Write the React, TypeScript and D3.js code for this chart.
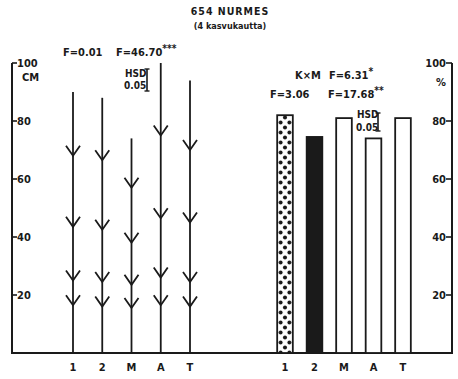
import React from "react";
import { scaleLinear, scalePoint } from "d3";

// categories (same on both panels)
const categories = ["1", "2", "M", "A", "T"];

// left panel: height of the vertical line (cm) and the four arrow marks
const lineTop = [90, 88, 74, 100, 94];
const arrow1 = [68, 66.5, 57, 75, 70];
const arrow2 = [43.5, 42.5, 38, 46.5, 45];
const arrow3 = [25, 24.5, 23.5, 26, 24.5];
const arrow4 = [16.5, 16, 15.5, 16.5, 16];

// right panel: bar values (%)
const barValues = [82, 74.5, 81, 74, 81];

const yTicks = [20, 40, 60, 80, 100];

const W = 458;
const H = 379;
const font = "'DejaVu Sans Condensed', 'DejaVu Sans', sans-serif";

export default function App() {
  const y = scaleLinear().domain([0, 100]).range([353, 63]);
  const xLeft = scalePoint().domain(categories).range([73, 190]);
  const xRight = scalePoint().domain(categories).range([285, 403]);
  const barW = xRight.step() * 0.53;

  const arrowSets = [arrow1, arrow2, arrow3, arrow4];
  const ink = "#1a1a1a";

  return (
    <div style={{ position: "absolute", left: 0, top: 0 }}>
      <svg width={W} height={H} style={{ display: "block", background: "#fff" }}>
        <defs>
          <pattern id="dots" patternUnits="userSpaceOnUse" x={xRight("1")! - barW / 2} y={0} width={barW} height={10}>
            <rect width={barW} height={10} fill="#fff" />
            <circle cx={barW * 0.22} cy={2.5} r={2} fill={ink} />
            <circle cx={barW * 0.78} cy={2.5} r={2} fill={ink} />
            <circle cx={barW * 0.5} cy={7.5} r={2} fill={ink} />
          </pattern>
        </defs>
        <g fontFamily={font} fontWeight="bold" fill={ink}>
          {/* title */}
          <text x={230} y={15} fontSize={10.5} textAnchor="middle" letterSpacing={1}>654 NURMES</text>
          <text x={230} y={29} fontSize={9} textAnchor="middle">(4 kasvukautta)</text>

          {/* axes */}
          <line x1={12} x2={12} y1={y(100)} y2={y(0)} stroke={ink} strokeWidth={2} />
          <line x1={452} x2={452} y1={y(100)} y2={y(0)} stroke={ink} strokeWidth={2} />
          <line x1={11} x2={453} y1={y(0)} y2={y(0)} stroke={ink} strokeWidth={2} />
          {yTicks.map((t) => (
            <g key={"l" + t}>
              <line x1={12} x2={17} y1={y(t)} y2={y(t)} stroke={ink} strokeWidth={1.6} />
              <text x={17} y={y(t) + 4} fontSize={11}>{t}</text>
              <line x1={446} x2={452} y1={y(t)} y2={y(t)} stroke={ink} strokeWidth={1.6} />
              <text x={446} y={y(t) + 4} fontSize={11} textAnchor="end">{t}</text>
            </g>
          ))}
          <text x={22} y={81} fontSize={11}>CM</text>
          <text x={441} y={86} fontSize={11} textAnchor="middle">%</text>

          {/* left panel: lines with arrows */}
          {categories.map((c, i) => {
            const cx = xLeft(c)!;
            return (
              <g key={"a" + c}>
                <line x1={cx} x2={cx} y1={y(lineTop[i])} y2={y(0)} stroke={ink} strokeWidth={1.8} />
                {arrowSets.map((s, j) => {
                  const ay = y(s[i]);
                  return (
                    <polyline key={j} points={`${cx - 7},${ay - 10} ${cx},${ay} ${cx + 7},${ay - 10}`}
                      fill="none" stroke={ink} strokeWidth={1.8} />
                  );
                })}
                <text x={cx} y={371} fontSize={11} textAnchor="middle">{c}</text>
              </g>
            );
          })}

          {/* right panel: bars */}
          {categories.map((c, i) => {
            const cx = xRight(c)!;
            const fill = i === 0 ? "url(#dots)" : i === 1 ? ink : "#fff";
            return (
              <g key={"b" + c}>
                <rect x={cx - barW / 2} y={y(barValues[i])} width={barW} height={y(0) - y(barValues[i])}
                  fill={fill} stroke={ink} strokeWidth={1.8} />
                <text x={cx} y={371} fontSize={11} textAnchor="middle">{c}</text>
              </g>
            );
          })}

          {/* statistics annotations, left */}
          <text x={63} y={56} fontSize={11}>F=0.01</text>
          <text x={116} y={56} fontSize={11}>F=46.70<tspan dy={-4} fontSize={10}>***</tspan></text>
          <text x={125} y={77} fontSize={10}>HSD</text>
          <text x={124} y={89} fontSize={10}>0.05</text>
          <line x1={147} x2={147} y1={69} y2={91} stroke={ink} strokeWidth={1.6} />
          <line x1={144.5} x2={149.5} y1={69} y2={69} stroke={ink} strokeWidth={1.4} />
          <line x1={144.5} x2={149.5} y1={91} y2={91} stroke={ink} strokeWidth={1.4} />

          {/* statistics annotations, right */}
          <text x={295} y={79} fontSize={11}>K×M</text>
          <text x={329} y={79} fontSize={11}>F=6.31<tspan dy={-4} fontSize={10}>*</tspan></text>
          <text x={270} y={98} fontSize={11}>F=3.06</text>
          <text x={328} y={98} fontSize={11}>F=17.68<tspan dy={-4} fontSize={10}>**</tspan></text>
          <text x={357} y={118} fontSize={10}>HSD</text>
          <text x={356} y={131} fontSize={10}>0.05</text>
          <line x1={378} x2={378} y1={113} y2={131} stroke={ink} strokeWidth={1.6} />
          <line x1={375.5} x2={380.5} y1={113} y2={113} stroke={ink} strokeWidth={1.4} />
          <line x1={375.5} x2={380.5} y1={131} y2={131} stroke={ink} strokeWidth={1.4} />
        </g>
      </svg>
    </div>
  );
}
